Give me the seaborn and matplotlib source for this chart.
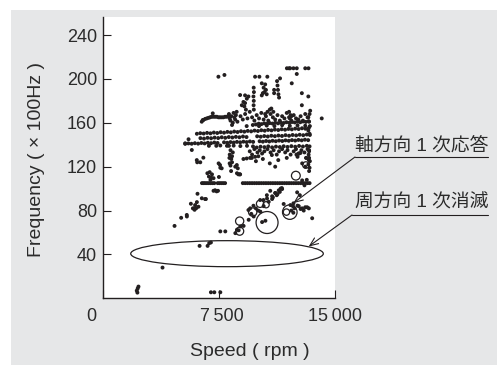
"""
Speed vs frequency map (scatter with annotated modes)
"""

import numpy as np
import pandas as pd
import matplotlib.pyplot as plt
import matplotlib.transforms as mtransforms
from matplotlib.patches import Ellipse, Rectangle
from matplotlib.lines import Line2D
import seaborn as sns

# ---- data (speed in rpm, frequency in x100 Hz) ----
iso_x = [2170, 2230, 2280, 2210, 3840, 4620, 5050, 5420, 5680, 5810, 5920, 6030, 6070,
         6110, 6655, 6245, 6765, 6870, 6980, 6980, 7200, 7590, 7590, 7913, 8565, 8670,
         7467, 7857, 9845, 10125, 10640, 11465, 10280, 12225, 12880, 13300, 14170,
         12550, 8875, 5310, 5740, 6064, 6090, 6490, 12880, 5528, 6290, 5415, 6390, 6600,
         5955, 5890, 6170, 13550]
iso_y = [7, 9, 10.7, 5.2, 28, 66, 73.4, 74.6, 86.2, 82, 80.7, 82.2, 87.7,
         95.3, 90.5, 47.8, 47.8, 50.3, 50.9, 5.5, 5.5, 5.5, 61, 61, 59.4, 62.4,
         202, 203.6, 202, 202, 202, 200.5, 196, 196, 187, 184, 164,
         204.5, 185.3, 141.3, 135.2, 126, 124, 128.2, 176, 145, 124, 76, 91.2, 90.5,
         85, 82, 83.5, 73]

top_x = [11910, 12050, 12120, 12335, 12550, 13100, 13310]
top_y = [209.7, 209.7, 209.7, 209.7, 209.7, 209.7, 209.7]

row105_x = [6400, 6500, 6600, 6720, 6840, 6960, 7080, 7200, 7420, 7540, 7660, 7780, 7900,
            9050, 9200, 9350, 9500, 9650, 9800, 9950, 10100, 10250, 10400, 10550, 10700,
            10850, 11000, 11150, 11300, 11450, 11600, 11750, 11900, 12050, 12200, 12350,
            12500, 12650, 12800, 12950, 13100, 13250, 13380, 12900, 13050, 13200]
row105_y = [105, 105, 105, 105, 105, 105, 105, 105, 105, 105, 105, 105, 105,
            105, 105, 105, 105, 105, 105, 105, 105, 105, 105, 105, 105,
            105, 105, 105, 105, 105, 105, 105, 105, 105, 105, 105,
            105, 105, 105, 105, 105, 105, 105, 107.5, 103, 108]

mid_x = [6750, 6900, 7050, 6850, 7000, 7150, 6950, 7150, 7250, 7350, 7440,
         7570, 7680, 8290, 8660, 8725, 8765, 8875, 7480, 7590, 7500, 8350, 8195, 8560,
         8670, 8850, 8150, 8250, 8200, 8300, 8350, 8250, 8400, 8180]
mid_y = [114, 115, 113, 111, 110, 109.5, 108, 98, 98.5, 97.5, 98,
         121.5, 118.5, 116, 121.5, 118.5, 113, 113, 123, 119, 110.6, 129.5, 123, 120,
         114, 113, 139, 135, 131, 127, 124, 121, 133, 128]

diag_x = [8780, 9100, 9430, 9756, 10190, 10400, 10730, 10950, 11165, 11380, 11600, 10950,
          10620, 11700, 12140, 12680, 12900, 13225, 13333, 13000, 12575, 12750, 8890, 9600,
          9900, 10050, 11000, 11300, 11450, 11500, 11250, 12400, 12300, 10830, 11580,
          10610, 11150, 10175, 10390, 9740, 9525, 9415, 12335, 12600, 12800, 13100,
          10300, 10515, 12200, 12330]
diag_y = [62, 66, 71.6, 74.6, 79, 84, 88, 90.5, 96, 98.4, 99.6, 93,
          91, 86, 85, 84, 82, 83, 82, 80, 96.6, 94, 65.5, 77,
          82, 80, 92, 95, 97, 100, 94, 82, 84, 98, 100.5,
          94, 96, 89.6, 89.6, 84.4, 82, 80.5, 86.6, 84.5, 81.4, 83,
          69.5, 70.7, 80, 78]

row_a_x = [6385, 6450, 6490, 6600, 6710, 6820, 6925, 7030, 7140, 7250, 7360, 7470, 7570,
           7680, 7790, 7900, 8010, 8100, 7100, 8150, 8250, 8300, 8400, 8450, 8550, 8600,
           8700, 8200, 8350, 8500, 8650]
row_a_y = [161, 162.5, 162.5, 163.5, 164, 164.5, 165, 165.5, 165.5, 165.5, 165.5, 165, 165,
           165, 165, 165.5, 165.5, 166, 168.6, 168, 162, 166, 160, 169, 163, 167,
           161, 164, 158, 165, 170]

row_b_x = [6070, 6290, 6510, 6730, 6950, 7170, 7390, 7610, 7830, 8050, 8270, 8490, 8710,
           8930, 9150, 9370, 9590, 9810, 10030, 10250, 10470, 10690, 10910, 11130, 11350,
           11570, 11790, 12010, 12230, 12450, 12670, 12890, 13110, 13330]
row_b_y = [150.0, 150.5, 150.2, 150.8, 150.4, 151.1, 150.7, 151.4, 151.0, 151.7, 151.3, 152.0,
           151.6, 152.3, 151.9, 152.6, 152.2, 152.9, 152.5, 153.2, 152.8, 153.5, 153.1, 153.8,
           153.4, 154.1, 153.7, 154.4, 154.0, 154.7, 154.3, 155.0, 154.6, 155.3]

row_c_x = [6300, 6530, 6760, 6990, 7220, 7450, 7680, 7910, 8140, 8370, 8600, 8830, 9060,
           9290, 9980, 10210, 10440, 10670, 10900, 11130, 11360, 11590, 11820, 12050, 12280,
           12510, 12740, 12970, 13200, 13400]
row_c_y = [146.0, 145.6, 146.3, 145.9, 146.5, 146.1, 146.8, 146.3, 147.0, 146.6, 147.2, 146.8,
           147.5, 147.0, 147.7, 147.3, 147.9, 147.5, 148.2, 147.8, 148.4, 148.0, 148.7, 148.2,
           148.9, 148.5, 149.1, 148.7, 149.3, 148.9]

row_d_x = [5310, 5520, 5730, 5940, 6150, 6360, 6570, 6780, 6990, 7200, 7410, 7830, 8040,
           8250, 8460, 8670, 8880, 9090, 9300, 9510, 9720, 10140, 10350, 10560, 10770, 10980,
           11190, 11400, 11610, 11820, 12030, 12240, 12450, 12660, 12870, 13080, 13290]
row_d_y = [140.8, 141.2, 140.9, 141.4, 141.0, 141.6, 141.2, 141.8, 141.4, 142.0, 141.6, 142.2,
           141.8, 142.4, 142.0, 142.6, 142.2, 142.8, 142.4, 143.0, 142.6, 143.2, 142.8, 143.4,
           143.0, 143.6, 143.2, 143.8, 143.4, 144.0, 143.6, 144.2, 143.8, 144.4, 144.0, 144.6,
           144.2]

row_e_x = [9900, 10080, 10260, 10440, 10620, 10800, 10980, 11160, 11340, 11520, 11700, 11880,
           12060, 12240, 12420, 12600, 12780, 12960, 13140, 13320]
row_e_y = [158.5, 159.2, 158.8, 159.5, 159.0, 159.7, 159.3, 160.0, 159.5, 160.2, 159.8, 160.5,
           160.0, 160.7, 160.3, 161.0, 160.5, 161.2, 160.8, 161.4]

row_f_x = [6850, 7330, 7590, 8020, 8455, 8890, 9320, 9710, 9950, 10200, 10450, 10700, 10950,
           11200, 11450, 11700, 11950, 12200, 12450, 12700, 12950, 13200, 13380]
row_f_y = [139, 139, 139.3, 139, 139.2, 138.8, 139, 138.5, 137.5, 138.2, 137.8, 138.5, 137.6,
           138.3, 137.9, 138.6, 138.0, 138.7, 138.2, 138.9, 138.4, 139.0, 138.5]

low_x = [9500, 9650, 9800, 10000, 10150, 10300, 10450, 10650, 10850, 11050, 11250, 11400,
         11600, 11800, 11950, 12150, 12350, 12500, 12700, 12850, 13050, 13250, 13350, 9900,
         10350, 10800, 11350, 11900, 12600, 13150, 9090, 9300, 9525, 9635, 9850, 10060, 10935,
         12660, 11150]
low_y = [134, 131, 136, 133, 135, 132, 134, 136, 133, 135, 131, 134,
         136, 133, 135, 131, 134, 136, 132, 135, 133, 136, 134, 125,
         127, 123, 126, 128, 129, 128, 127, 127.5, 128, 128, 129, 129.5, 130.6,
         132, 120]

col_x = [13350, 13380, 13300, 13400, 13350, 13320, 13380, 13300, 13400, 13350, 13300, 13380,
         13420, 13350, 13100, 13180, 13330, 12900, 12790, 12530]
col_y = [116, 119, 122, 125, 128, 131, 150, 153, 157, 161, 165, 168,
         171, 135, 120, 128, 126, 123, 132.5, 131]

upper_x = [8900, 9050, 9200, 9350, 9500, 9650, 9800, 9950, 10100, 10250, 10400, 10550, 10700,
           10850, 11000, 11150, 11300, 11450, 11600, 11750, 11900, 12050, 12200, 12350, 12500,
           12650, 12800, 12950, 13100, 13250, 9300, 9700, 10100, 10600, 11100, 11600, 12100,
           12600, 13100,
           8985, 9090, 9310, 9415, 9195, 9195, 9150, 9250, 9756, 9770, 9740, 9760, 9750, 9765,
           10280, 10350, 10450, 10550, 10600, 10400, 10500, 11080, 11080, 11270, 11300, 11330,
           11360, 11400, 10500, 10650, 10800, 10900, 11030, 12100, 12150, 12050, 12200]
upper_y = [166, 163, 168, 164, 170, 165, 162, 167, 164, 169, 163, 166, 162,
           168, 165, 163, 167, 162, 166, 164, 169, 165, 162, 167, 164,
           163, 166, 162, 168, 165, 157, 158, 157, 157.5, 157, 157.8, 157.2,
           157.6, 157.3,
           176, 179, 182, 184, 185, 178, 175, 172, 192, 188, 184, 180, 176, 172,
           185, 187, 188, 190, 186, 192, 195, 190, 187, 198, 194, 190,
           186, 183, 168, 170, 172, 173, 170, 164, 167, 170, 166]

# open circles (marker area in pt^2)
circ_x = [10623, 12097, 12490, 9690, 8845, 8845, 10170, 10560, 11880, 13140]
circ_y = [69.1, 78.6, 111.8, 78.6, 70.4, 61.2, 86.2, 85.3, 78.6, 121.5]
circ_s = [250, 110, 40, 36, 35, 34, 28, 20, 21, 22]

ellipse_center = (8025, 40.7)
ellipse_size = (12495, 23.7)

labels = ["軸方向 1 次応答", "周方向 1 次消滅"]
label_tips = [(12330, 86.8), (13320, 47.2)]

ink = "#231f20"
bg = "#e6e7e8"

sns.set_style("ticks")
plt.rcParams["font.family"] = ["Liberation Sans", "Noto Sans CJK JP", "DejaVu Sans"]

fig = plt.figure(figsize=(4.97, 3.65), dpi=100)
fig.patches.append(Rectangle((11 / 497, 0), 1, 355 / 365, transform=fig.transFigure,
                             facecolor=bg, edgecolor="none", zorder=-10))
ax = fig.add_axes([0.2079, 0.1827, 0.4652, 0.7694])
ax.set_facecolor("white")

dots = pd.DataFrame({
    "speed": np.concatenate([iso_x, top_x, row105_x, mid_x, diag_x, row_a_x, row_b_x,
                             row_c_x, row_d_x, row_e_x, row_f_x, low_x, col_x, upper_x]),
    "freq": np.concatenate([iso_y, top_y, row105_y, mid_y, diag_y, row_a_y, row_b_y,
                            row_c_y, row_d_y, row_e_y, row_f_y, low_y, col_y, upper_y]),
})
sns.scatterplot(data=dots, x="speed", y="freq", s=8, color=ink, linewidth=0,
                edgecolor="none", ax=ax, zorder=3)

circles = pd.DataFrame({"speed": circ_x, "freq": circ_y, "s": circ_s})
sns.scatterplot(data=circles, x="speed", y="freq", size="s",
                sizes={v: v for v in circ_s}, facecolor="none", edgecolor=ink,
                linewidth=0.9, legend=False, ax=ax, zorder=4)

ax.add_patch(Ellipse(ellipse_center, ellipse_size[0], ellipse_size[1], fill=False,
                     edgecolor=ink, linewidth=0.9, zorder=4))

ax.set_xlim(0, 15000)
ax.set_ylim(0, 256)
ax.set_xticks([0, 7500, 15000])
ax.set_xticklabels(["0", "7\u2009500", "15\u2009000"])
ax.set_yticks([40, 80, 120, 160, 200, 240])
ax.tick_params(direction="in", length=6, width=0.8, color=ink, labelcolor="#2b2b2b",
               labelsize=13)
ax.tick_params(axis="x", pad=7)
ax.tick_params(axis="y", pad=4.5)
xl = ax.get_xticklabels()
xl[0].set_transform(xl[0].get_transform() +
                    mtransforms.ScaledTranslation(-0.116, 0, fig.dpi_scale_trans))
xl[1].set_transform(xl[1].get_transform() +
                    mtransforms.ScaledTranslation(0.03, 0, fig.dpi_scale_trans))
ax.set_xlabel("")
ax.set_ylabel("")
sns.despine(ax=ax)
for side in ["left", "bottom"]:
    ax.spines[side].set_color(ink)
    ax.spines[side].set_linewidth(1.0)

fig.text(250 / 497, (365 - 356.5) / 365, "Speed ( rpm )", ha="center", va="baseline",
         fontsize=14, color="#2b2b2b")
fig.text(37 / 497, 0.563, "Frequency ( × 100Hz )", rotation=90, ha="center",
         va="center", fontsize=14, color="#2b2b2b")

# callouts: text, underline, arrow to the data
text_y = [146, 203]
line_y = [157, 215]
line_x0 = [355, 352]
for lab, ty, ly, lx, tip in zip(labels, text_y, line_y, line_x0, label_tips):
    fig.text(355 / 497, 1 - ty / 365, lab, ha="left", va="center", fontsize=13.5,
             color="#2b2b2b")
    fig.add_artist(Line2D([lx / 497, 488 / 497], [1 - ly / 365, 1 - ly / 365],
                          transform=fig.transFigure, color=ink, linewidth=0.8))
    ax.annotate("", xy=tip, xycoords="data", xytext=(lx / 497, 1 - ly / 365),
                textcoords="figure fraction", annotation_clip=False,
                arrowprops=dict(arrowstyle="->,head_length=0.6,head_width=0.25",
                                color=ink, linewidth=0.8, shrinkA=0, shrinkB=0))

fig.savefig("out.png", dpi=100)
